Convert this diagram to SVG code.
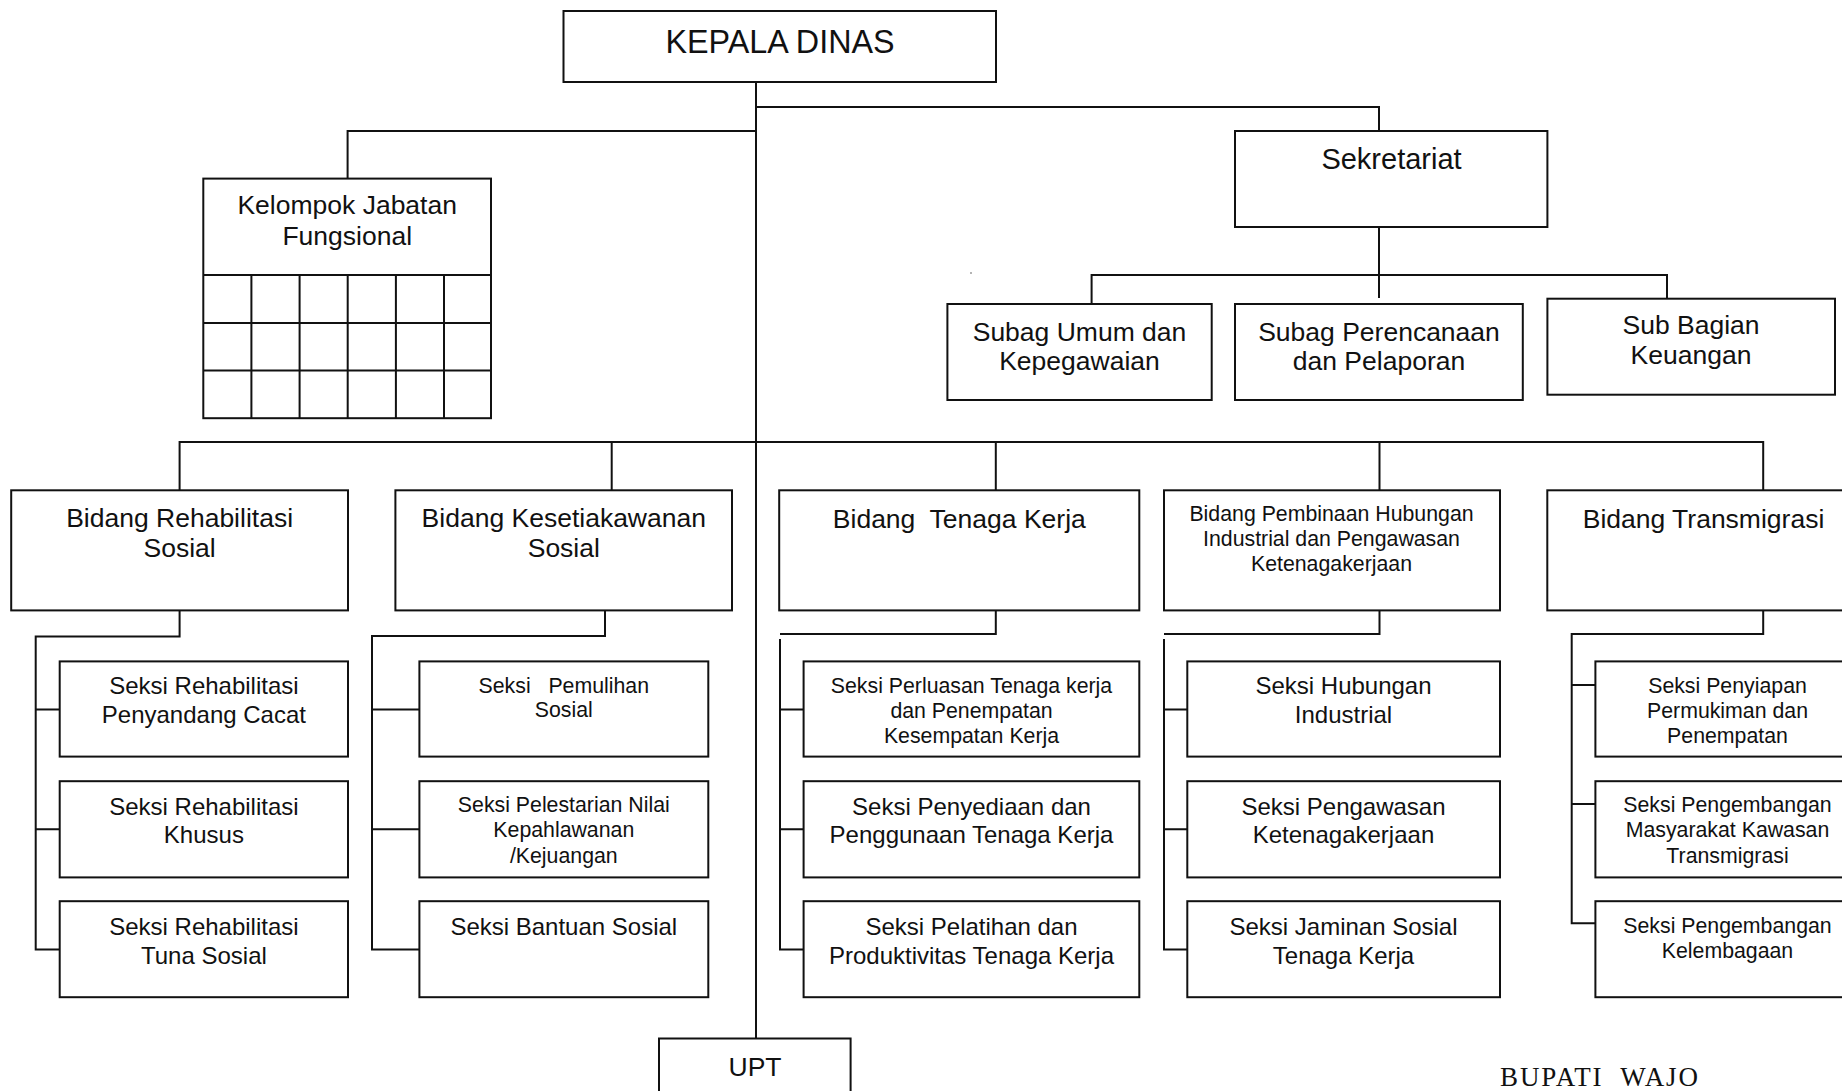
<svg xmlns="http://www.w3.org/2000/svg" width="1842" height="1091" viewBox="0 0 1842 1091">
  <style>
    .box { fill: #fff; stroke: #111; stroke-width: 2; }
    .grid { fill: none; stroke: #111; stroke-width: 2; }
    .wire { fill: none; stroke: #111; stroke-width: 2; }
    text { font-family: "Liberation Sans", Arial, sans-serif; fill: #111; text-anchor: middle; }
    .t32 { font-size: 32.3px; }
    .t29 { font-size: 29px; }
    .t27 { font-size: 26.5px; }
    .t24 { font-size: 24px; }
    .t21 { font-size: 21.3px; }
    .serif { font-family: "Liberation Serif", "Times New Roman", serif; font-size: 27px; text-anchor: start; }
  </style>
  <rect width="1842" height="1091" fill="#fff"/>

  <!-- connectors -->
  <g id="connectors" class="wire">
    <!-- main trunk from the head down to UPT -->
    <path d="M756 82 V1039"/>
    <path d="M756 107 H1379 V131"/>
    <path d="M756 131 H347.6 V178.6"/>
    <!-- secretariat to its sub-sections -->
    <path d="M1379 227 V298"/>
    <path d="M1091.6 304 V275 H1667 V298.7"/>
    <!-- bus to the five bidang -->
    <path d="M179.6 490.3 V442 H1763.2 V490.3"/>
    <path d="M611.7 442 V490.3"/>
    <path d="M995.8 442 V490.3"/>
    <path d="M1379.5 442 V490.3"/>
    <!-- bidang rehabilitasi sosial -->
    <path d="M179.6 610.4 V636.6 H35.7 V949.4 H59.7"/>
    <path d="M35.7 709.4 H59.7 M35.7 829.2 H59.7"/>
    <!-- bidang kesetiakawanan sosial -->
    <path d="M605 610.4 V636 H372 V949.4 H419.4"/>
    <path d="M372 709.4 H419.4 M372 829.2 H419.4"/>
    <!-- bidang tenaga kerja -->
    <path d="M995.8 610.4 V634 H780"/>
    <path d="M780 639 V949.4 H803.6 M780 709.4 H803.6 M780 829.2 H803.6"/>
    <!-- bidang pembinaan hubungan industrial -->
    <path d="M1379.5 610.4 V634 H1164"/>
    <path d="M1164 639 V949.4 H1187.3 M1164 709.4 H1187.3 M1164 829.2 H1187.3"/>
    <!-- bidang transmigrasi -->
    <path d="M1763.2 610.4 V634 H1571.7 V923.3 H1595.4 M1571.7 685 H1595.4 M1571.7 804 H1595.4"/>
  </g>

  <g id="kepala-dinas">
    <rect class="box" x="563.5" y="11" width="432.5" height="71"/>
    <text class="t32" x="780" y="52.5">KEPALA DINAS</text>
  </g>

  <g id="kelompok-jabatan-fungsional">
    <rect class="box" x="203.3" y="178.6" width="287.7" height="239.6"/>
    <path class="grid" d="M203.3 274.9 H491 M203.3 323 H491 M203.3 370.5 H491 M251.4 274.9 V418.2 M299.6 274.9 V418.2 M347.7 274.9 V418.2 M395.9 274.9 V418.2 M444 274.9 V418.2"/>
    <text class="t27" x="347.2" y="214">Kelompok Jabatan</text>
    <text class="t27" x="347.2" y="245">Fungsional</text>
  </g>

  <g id="sekretariat">
    <rect class="box" x="1235" y="131" width="312.4" height="96"/>
    <text class="t29" x="1391.5" y="168.5">Sekretariat</text>
  </g>

  <!-- stray speck near the secretariat branch -->
  <circle cx="971" cy="273" r="0.8" fill="#555"/>

  <g id="subag-umum">
    <rect class="box" x="947.4" y="304" width="264.3" height="96"/>
    <text class="t27" x="1079.5" y="340.5">Subag Umum dan</text>
    <text class="t27" x="1079.5" y="369.5">Kepegawaian</text>
  </g>

  <g id="subag-perencanaan">
    <rect class="box" x="1235" y="304" width="287.8" height="96"/>
    <text class="t27" x="1379" y="340.5">Subag Perencanaan</text>
    <text class="t27" x="1379" y="369.5">dan Pelaporan</text>
  </g>

  <g id="sub-bagian-keuangan">
    <rect class="box" x="1547.4" y="298.7" width="287.6" height="96"/>
    <text class="t27" x="1691" y="334">Sub Bagian</text>
    <text class="t27" x="1691" y="363.5">Keuangan</text>
  </g>

  <g id="bidang-rehabilitasi-sosial">
    <rect class="box" x="11.2" y="490.3" width="336.8" height="120.1"/>
    <text class="t27" x="179.6" y="527">Bidang Rehabilitasi</text>
    <text class="t27" x="179.6" y="557">Sosial</text>
  </g>

  <g id="bidang-kesetiakawanan-sosial">
    <rect class="box" x="395.4" y="490.3" width="336.6" height="120.1"/>
    <text class="t27" x="563.8" y="527">Bidang Kesetiakawanan</text>
    <text class="t27" x="563.8" y="557">Sosial</text>
  </g>

  <g id="bidang-tenaga-kerja">
    <rect class="box" x="779.2" y="490.3" width="360.1" height="120.1"/>
    <text class="t27" x="959.3" y="527.5" xml:space="preserve">Bidang  Tenaga Kerja</text>
  </g>

  <g id="bidang-pembinaan-hubungan-industrial">
    <rect class="box" x="1164" y="490.3" width="336" height="120.1"/>
    <text class="t21" x="1331.5" y="521">Bidang Pembinaan Hubungan</text>
    <text class="t21" x="1331.5" y="546">Industrial dan Pengawasan</text>
    <text class="t21" x="1331.5" y="571">Ketenagakerjaan</text>
  </g>

  <g id="bidang-transmigrasi">
    <rect class="box" x="1547.3" y="490.3" width="330" height="120.1"/>
    <text class="t27" x="1703.5" y="527.5">Bidang Transmigrasi</text>
  </g>

  <!-- seksi under bidang rehabilitasi sosial -->
  <g id="seksi-rehab-penyandang-cacat">
    <rect class="box" x="59.7" y="661.4" width="288.3" height="95.2"/>
    <text class="t24" x="203.9" y="694">Seksi Rehabilitasi</text>
    <text class="t24" x="203.9" y="723">Penyandang Cacat</text>
  </g>
  <g id="seksi-rehab-khusus">
    <rect class="box" x="59.7" y="781.2" width="288.3" height="96.2"/>
    <text class="t24" x="203.9" y="815">Seksi Rehabilitasi</text>
    <text class="t24" x="203.9" y="843">Khusus</text>
  </g>
  <g id="seksi-rehab-tuna-sosial">
    <rect class="box" x="59.7" y="901.2" width="288.3" height="96"/>
    <text class="t24" x="203.9" y="934.5">Seksi Rehabilitasi</text>
    <text class="t24" x="203.9" y="964">Tuna Sosial</text>
  </g>

  <!-- seksi under bidang kesetiakawanan sosial -->
  <g id="seksi-pemulihan-sosial">
    <rect class="box" x="419.4" y="661.4" width="288.9" height="95.2"/>
    <text class="t21" x="563.8" y="692.5" xml:space="preserve">Seksi   Pemulihan</text>
    <text class="t21" x="563.8" y="717">Sosial</text>
  </g>
  <g id="seksi-pelestarian-nilai">
    <rect class="box" x="419.4" y="781.2" width="288.9" height="96.2"/>
    <text class="t21" x="563.8" y="812">Seksi Pelestarian Nilai</text>
    <text class="t21" x="563.8" y="837">Kepahlawanan</text>
    <text class="t21" x="563.8" y="862.5">/Kejuangan</text>
  </g>
  <g id="seksi-bantuan-sosial">
    <rect class="box" x="419.4" y="901.2" width="288.9" height="96"/>
    <text class="t24" x="563.8" y="934.5">Seksi Bantuan Sosial</text>
  </g>

  <!-- seksi under bidang tenaga kerja -->
  <g id="seksi-perluasan-tenaga-kerja">
    <rect class="box" x="803.6" y="661.4" width="335.7" height="95.2"/>
    <text class="t21" x="971.5" y="692.5">Seksi Perluasan Tenaga kerja</text>
    <text class="t21" x="971.5" y="717.5">dan Penempatan</text>
    <text class="t21" x="971.5" y="742.5">Kesempatan Kerja</text>
  </g>
  <g id="seksi-penyediaan-tenaga-kerja">
    <rect class="box" x="803.6" y="781.2" width="335.7" height="96.2"/>
    <text class="t24" x="971.5" y="815">Seksi Penyediaan dan</text>
    <text class="t24" x="971.5" y="843">Penggunaan Tenaga Kerja</text>
  </g>
  <g id="seksi-pelatihan-produktivitas">
    <rect class="box" x="803.6" y="901.2" width="335.7" height="96"/>
    <text class="t24" x="971.5" y="934.5">Seksi Pelatihan dan</text>
    <text class="t24" x="971.5" y="964">Produktivitas Tenaga Kerja</text>
  </g>

  <!-- seksi under bidang pembinaan hubungan industrial -->
  <g id="seksi-hubungan-industrial">
    <rect class="box" x="1187.3" y="661.4" width="312.7" height="95.2"/>
    <text class="t24" x="1343.5" y="694">Seksi Hubungan</text>
    <text class="t24" x="1343.5" y="723">Industrial</text>
  </g>
  <g id="seksi-pengawasan">
    <rect class="box" x="1187.3" y="781.2" width="312.7" height="96.2"/>
    <text class="t24" x="1343.5" y="815">Seksi Pengawasan</text>
    <text class="t24" x="1343.5" y="843">Ketenagakerjaan</text>
  </g>
  <g id="seksi-jaminan-sosial">
    <rect class="box" x="1187.3" y="901.2" width="312.7" height="96"/>
    <text class="t24" x="1343.5" y="934.5">Seksi Jaminan Sosial</text>
    <text class="t24" x="1343.5" y="964">Tenaga Kerja</text>
  </g>

  <!-- seksi under bidang transmigrasi -->
  <g id="seksi-penyiapan-permukiman">
    <rect class="box" x="1595.4" y="661.4" width="280" height="95.2"/>
    <text class="t21" x="1727.5" y="692.5">Seksi Penyiapan</text>
    <text class="t21" x="1727.5" y="717.5">Permukiman dan</text>
    <text class="t21" x="1727.5" y="742.5">Penempatan</text>
  </g>
  <g id="seksi-pengembangan-masyarakat">
    <rect class="box" x="1595.4" y="781.2" width="280" height="96.2"/>
    <text class="t21" x="1727.5" y="812">Seksi Pengembangan</text>
    <text class="t21" x="1727.5" y="837">Masyarakat Kawasan</text>
    <text class="t21" x="1727.5" y="862.5">Transmigrasi</text>
  </g>
  <g id="seksi-pengembangan-kelembagaan">
    <rect class="box" x="1595.4" y="901.2" width="280" height="96"/>
    <text class="t21" x="1727.5" y="933">Seksi Pengembangan</text>
    <text class="t21" x="1727.5" y="958">Kelembagaan</text>
  </g>

  <g id="upt">
    <rect class="box" x="659" y="1038.5" width="191.6" height="70"/>
    <text class="t27" x="755" y="1076">UPT</text>
  </g>

  <text class="serif" x="1500" y="1086" xml:space="preserve" textLength="198" lengthAdjust="spacing">BUPATI  WAJO</text>
</svg>
